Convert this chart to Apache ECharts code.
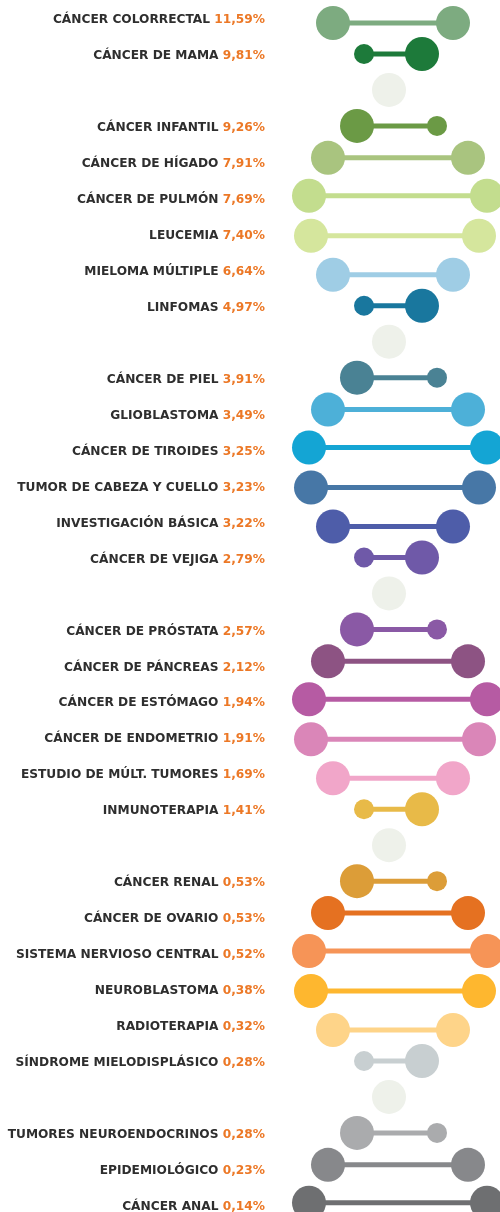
<!DOCTYPE html>
<html><head><meta charset="utf-8">
<script src="https://cdn.jsdelivr.net/npm/echarts@6/dist/echarts.min.js"></script>
<style>html,body{margin:0;padding:0;background:#fff}#c{width:500px;height:1212px}</style>
</head><body><div id="c"></div>
<script>
// ---- data ----
const categories = [
  'CÁNCER COLORRECTAL', 'CÁNCER DE MAMA',
  'CÁNCER INFANTIL', 'CÁNCER DE HÍGADO', 'CÁNCER DE PULMÓN', 'LEUCEMIA', 'MIELOMA MÚLTIPLE', 'LINFOMAS',
  'CÁNCER DE PIEL', 'GLIOBLASTOMA', 'CÁNCER DE TIROIDES', 'TUMOR DE CABEZA Y CUELLO', 'INVESTIGACIÓN BÁSICA', 'CÁNCER DE VEJIGA',
  'CÁNCER DE PRÓSTATA', 'CÁNCER DE PÁNCREAS', 'CÁNCER DE ESTÓMAGO', 'CÁNCER DE ENDOMETRIO', 'ESTUDIO DE MÚLT. TUMORES', 'INMUNOTERAPIA',
  'CÁNCER RENAL', 'CÁNCER DE OVARIO', 'SISTEMA NERVIOSO CENTRAL', 'NEUROBLASTOMA', 'RADIOTERAPIA', 'SÍNDROME MIELODISPLÁSICO',
  'TUMORES NEUROENDOCRINOS', 'EPIDEMIOLÓGICO', 'CÁNCER ANAL'
];
const shares = [
  11.59, 9.81,
  9.26, 7.91, 7.69, 7.40, 6.64, 4.97,
  3.91, 3.49, 3.25, 3.23, 3.22, 2.79,
  2.57, 2.12, 1.94, 1.91, 1.69, 1.41,
  0.53, 0.53, 0.52, 0.38, 0.32, 0.28,
  0.28, 0.23, 0.14
];
const groupSizes = [2, 6, 6, 6, 6, 3];

// ---- styles ----
const palette = [
  '#7dab80', '#1d7a3a',
  '#6b9a45', '#a9c47f', '#c3dd8e', '#d5e69d', '#9fcde5', '#19779e',
  '#4a8294', '#4db0d8', '#14a5d4', '#4777a6', '#4e5da9', '#6f59a8',
  '#8a59a5', '#8d5383', '#b65ba3', '#da86b8', '#f1a6c9', '#e8ba48',
  '#dc9d38', '#e57121', '#f69457', '#feb72f', '#fed489', '#c8cfd1',
  '#aaabad', '#87888b', '#6e6f71'
];
const gapColor = '#eef1ea';
const nameColor = '#2e2e2e';
const pctColor = '#ec7826';

// ---- helix template (phase 0 = strands crossing) ----
const HELIX_LEFT  = [389, 357, 328, 309, 311, 333, 364];
const HELIX_RIGHT = [389, 437, 468, 487, 479, 453, 422];
const HELIX_DY    = [0, 0, -4, -2, 2, 5, 0];
const LEFT_R      = [17, 17, 17, 17, 17, 17, 10];
const RIGHT_R     = [17, 10, 17, 17, 17, 17, 17];
const SLOT_PX = 35.964;
const FIRST_GAP_SLOT = 2;

// ---- layout ----
const rows = [];
const gaps = [];
let slot = 0, idx = 0;
groupSizes.forEach((n, gi) => {
  for (let i = 0; i < n; i++) { rows.push({ idx: idx++, slot: slot++ }); }
  if (gi < groupSizes.length - 1) { gaps.push(slot++); }
});
const phaseOf = s => ((s - FIRST_GAP_SLOT) % 7 + 7) % 7;

const dumbbellData = rows.map(r => {
  const k = phaseOf(r.slot);
  return [HELIX_LEFT[k], HELIX_RIGHT[k], r.slot + HELIX_DY[k] / SLOT_PX, r.idx, k];
});
const gapData = gaps.map(s => [HELIX_LEFT[phaseOf(s)], s]);
const labelData = rows.map(r => [265, r.slot + 2 / SLOT_PX, r.idx]);

const fmtPct = v => v.toFixed(2).replace('.', ',') + '%';
const FONT = 'DejaVu Sans';
const FS = 12.2;

const chart = echarts.init(document.getElementById('c'), null, { renderer: 'canvas' });
chart.setOption({
  animation: false,
  backgroundColor: '#ffffff',
  grid: { left: 0, right: 0, top: 0, bottom: 0 },
  xAxis: { type: 'value', min: 0, max: 500, show: false },
  yAxis: { type: 'value', min: -0.5, max: 33.2, inverse: true, show: false },
  series: [
    {
      type: 'scatter',
      data: gapData,
      symbolSize: 34,
      itemStyle: { color: gapColor, opacity: 1 },
      silent: true,
      z: 1
    },
    {
      type: 'custom',
      data: dumbbellData,
      silent: true,
      z: 2,
      renderItem: function (params, api) {
        const y = api.value(2);
        const i = api.value(3);
        const k = api.value(4);
        const p1 = api.coord([api.value(0), y]);
        const p2 = api.coord([api.value(1), y]);
        const color = palette[i];
        return {
          type: 'group',
          children: [
            { type: 'line', shape: { x1: p1[0], y1: p1[1], x2: p2[0], y2: p2[1] },
              style: { stroke: color, lineWidth: 5 } },
            { type: 'circle', shape: { cx: p1[0], cy: p1[1], r: LEFT_R[k] }, style: { fill: color } },
            { type: 'circle', shape: { cx: p2[0], cy: p2[1], r: RIGHT_R[k] }, style: { fill: color } }
          ]
        };
      }
    },
    {
      type: 'scatter',
      data: labelData,
      symbolSize: 0,
      itemStyle: { color: 'rgba(0,0,0,0)', opacity: 1 },
      silent: true,
      z: 3,
      label: {
        show: true,
        position: 'left',
        distance: 0,
        opacity: 1,
        fontFamily: FONT,
        fontWeight: 'bold',
        fontSize: FS,
        color: nameColor,
        formatter: p => '{n|' + categories[p.value[2]] + '} {p|' + fmtPct(shares[p.value[2]]) + '}',
        rich: {
          n: { fontFamily: FONT, fontWeight: 'bold', fontSize: FS, color: nameColor },
          p: { fontFamily: FONT, fontWeight: 'bold', fontSize: FS, color: pctColor }
        }
      }
    }
  ]
});
</script></body></html>
